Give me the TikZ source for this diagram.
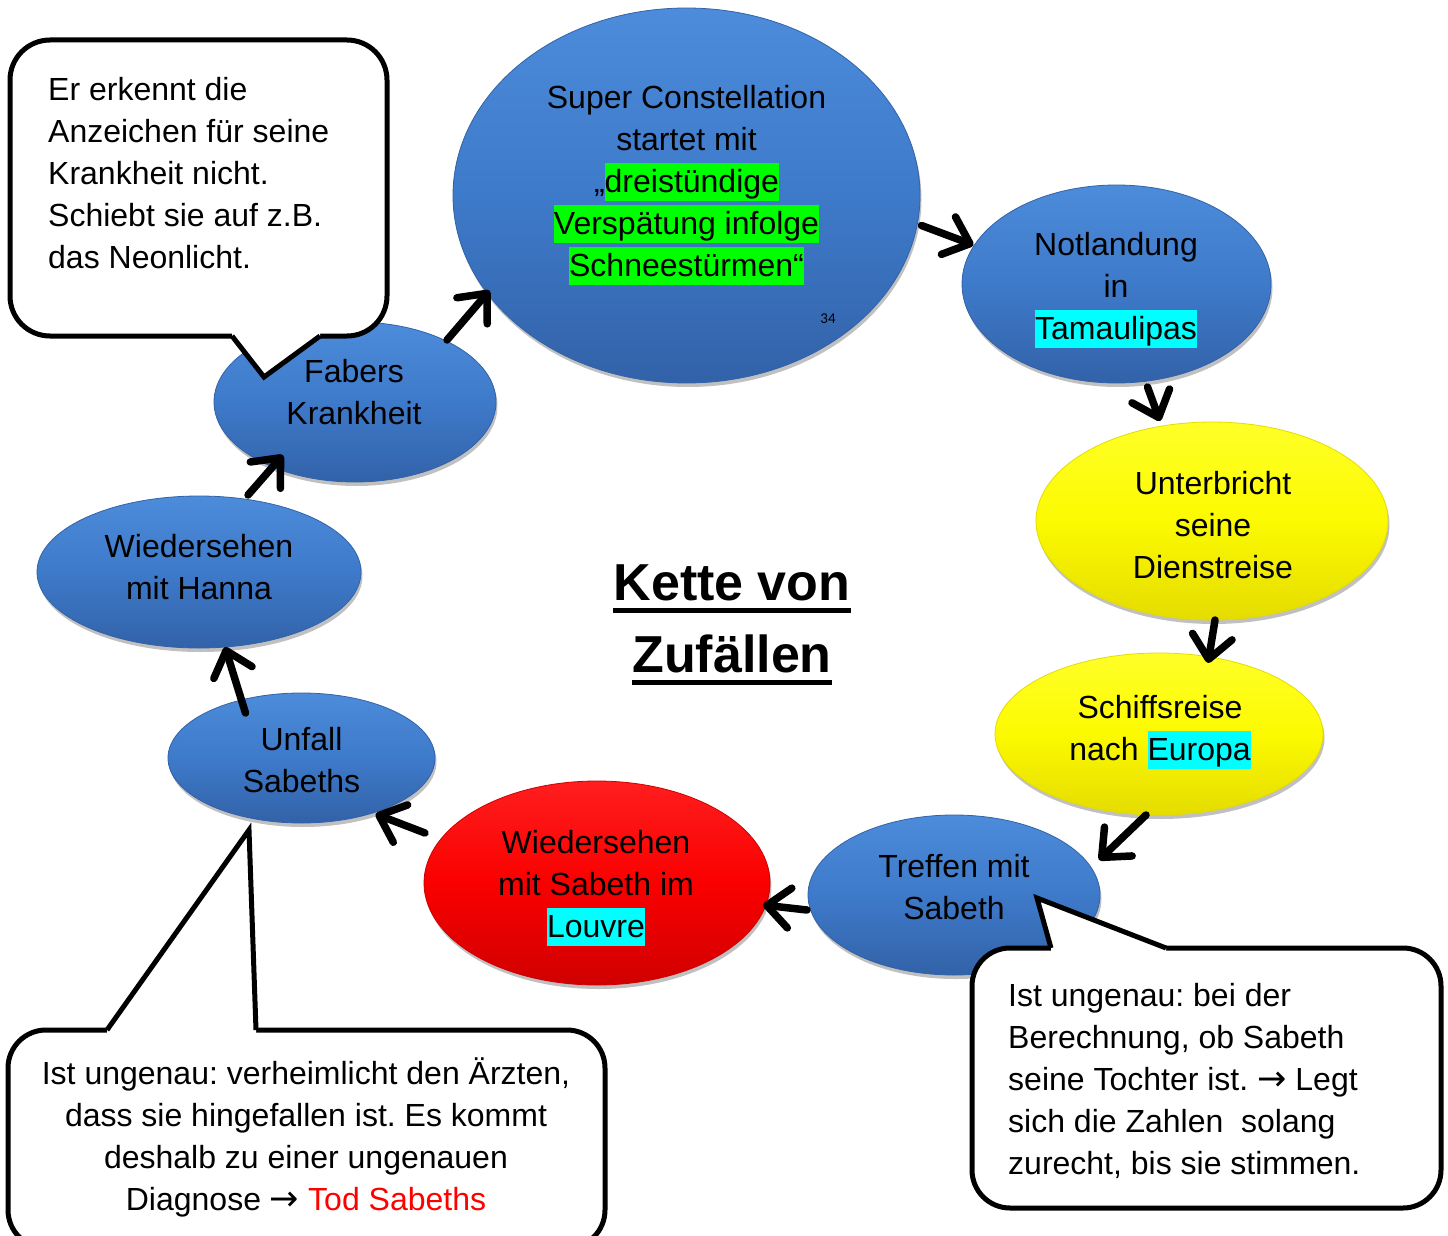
\documentclass[tikz,border=0pt]{standalone}
\usepackage{fontspec}
\setmainfont{Liberation Sans}
\newfontfamily\symf{DejaVu Sans}
\newfontfamily\smallf{Carlito}
\usetikzlibrary{shapes.geometric,arrows.meta,shadows}
\frenchspacing
\definecolor{bl1}{RGB}{76,140,218}
\definecolor{bl2}{RGB}{62,122,202}
\definecolor{bl3}{RGB}{50,98,168}
\definecolor{ye1}{RGB}{255,255,40}
\definecolor{ye2}{RGB}{252,250,0}
\definecolor{ye3}{RGB}{228,220,0}
\definecolor{re1}{RGB}{255,30,30}
\definecolor{re2}{RGB}{250,0,0}
\definecolor{re3}{RGB}{208,0,0}
\definecolor{hlgreen}{RGB}{0,255,0}
\definecolor{hlcyan}{RGB}{0,255,255}
\definecolor{txtred}{RGB}{255,0,0}
\newcommand\hlg[1]{{\setlength{\fboxsep}{0pt}\colorbox{hlgreen}{\rule[-9pt]{0pt}{38pt}#1}}}
\newcommand\hlc[1]{{\setlength{\fboxsep}{0pt}\colorbox{hlcyan}{\rule[-9pt]{0pt}{38pt}#1}}}
\newcommand\rarr{{\symf\fontsize{35}{42}\selectfont →}}
\tikzset{
 ell/.style={ellipse, inner sep=0pt, line width=0.8pt,
   drop shadow={shadow xshift=1.5pt, shadow yshift=-4pt, opacity=0.35, fill=black!70}},
 blueell/.style={ell, top color=bl1, bottom color=bl3, middle color=bl2, draw=bl3},
 yellowell/.style={ell, top color=ye1, bottom color=ye3, middle color=ye2, draw=ye3},
 redell/.style={ell, top color=re1, bottom color=re3, middle color=re2, draw=re3},
 lbl/.style={font=\fontsize{32}{42}\selectfont, align=center, inner sep=0pt},
 arr/.style={line width=7.5pt, line cap=round, -{Straight Barb[length=23pt,width=40pt,round]}},
 callbox/.style={draw=black, fill=white, line width=5pt, rounded corners=38pt},
 tailline/.style={draw=black, line width=5pt, line join=miter},
 ttl/.style={font=\fontsize{52}{60}\selectfont\bfseries, inner sep=0pt},
 uline/.style={line width=5pt},
}
\begin{document}
\begin{tikzpicture}[x=1pt,y=-1pt]
\useasboundingbox (0,0) rectangle (1448,1236);
\clip (0,0) rectangle (1448,1236);
\fill[white] (0,0) rectangle (1448,1236);

% ellipses
\node[blueell, minimum width=467pt, minimum height=375pt] (sup) at (686.5,195.5) {};
\node[blueell, minimum width=309pt, minimum height=198pt] (notl) at (1116.5,284) {};
\node[yellowell, minimum width=352pt, minimum height=198pt] (unt) at (1212,521) {};
\node[yellowell, minimum width=328pt, minimum height=162pt] (sch) at (1159,734) {};
\node[blueell, minimum width=292pt, minimum height=160pt] (tre) at (954,895) {};
\node[redell, minimum width=346pt, minimum height=204pt] (wss) at (597,883) {};
\node[blueell, minimum width=267pt, minimum height=130pt] (unf) at (301.5,758) {};
\node[blueell, minimum width=324pt, minimum height=152pt] (han) at (199,572) {};
\node[blueell, minimum width=282pt, minimum height=160pt] (fab) at (355,402) {};

% arrows
\draw[arr] ([shift={(92,-62)}]fab.center) -- ([shift={(-197,95)}]sup.center);
\draw[arr] ([shift={(235,30)}]sup.center) -- ([shift={(-143,-39)}]notl.center);
\draw[arr] ([shift={(31,103)}]notl.center) -- ([shift={(-52,-100)}]unt.center);
\draw[arr] ([shift={(3,99)}]unt.center) -- ([shift={(49,-71)}]sch.center);
\draw[arr] ([shift={(-13,81)}]sch.center) -- ([shift={(145,-35)}]tre.center);
\draw[arr] ([shift={(-147,15)}]tre.center) -- ([shift={(166,22)}]wss.center);
\draw[arr] ([shift={(-172,-50)}]wss.center) -- ([shift={(74,56)}]unf.center);
\draw[arr] ([shift={(-56,-45)}]unf.center) -- ([shift={(26,75)}]han.center);
\draw[arr] ([shift={(49,-77)}]han.center) -- ([shift={(-72,53)}]fab.center);

% callout A
\draw[callbox, rounded corners=40pt] (10,40) rectangle (387,336);
\fill[white] (232,330) -- (232,336) -- (264,377) -- (320,336) -- (320,330) -- cycle;
\draw[tailline] (232,336) -- (264,377) -- (320,336);
% callout B
\draw[callbox] (972,948) rectangle (1441,1208);
\fill[white] (1051,955) -- (1051,948) -- (1037,898) -- (1166,948) -- (1166,955) -- cycle;
\draw[tailline] (1051,948) -- (1037,898) -- (1166,948);
% callout C
\draw[callbox] (8,1030) rectangle (605,1248);
\fill[white] (107,1037) -- (107,1030) -- (249,830) -- (256,1030) -- (256,1037) -- cycle;
\draw[tailline] (107,1030) -- (249,830) -- (256,1030);

% texts
\node[lbl] (tsup) at (686.5,184) {\strut Super Constellation\\ startet mit\\ „\hlg{dreistündige}\\ \hlg{Verspätung infolge}\\ \hlg{Schneestürmen“}\strut};
\node[lbl] (tnot) at (1116,288.6) {\strut Notlandung\\ in\\ \hlc{Tamaulipas}\strut};
\node[lbl] (tunt) at (1213,528) {\strut Unterbricht\\ seine\\ Dienstreise\strut};
\node[lbl] (tsch) at (1160,731) {\strut Schiffsreise\\ nach \hlc{Europa}\strut};
\node[lbl] (ttre) at (954,890.5) {\strut Treffen mit\\ Sabeth\strut};
\node[lbl] (twss) at (596,887) {\strut Wiedersehen\\ mit Sabeth im\\ \hlc{Louvre}\strut};
\node[lbl] (tunf) at (301.5,763.5) {\strut Unfall\\ Sabeths\strut};
\node[lbl] (than) at (199,570) {\strut Wiedersehen\\ mit Hanna\strut};
\node[lbl] (tfab) at (354,395) {\strut Fabers\\ Krankheit\strut};
\node[font=\smallf\fontsize{15}{18}\selectfont, inner sep=0pt] (pg) at (828,319) {34};

\node[lbl, align=left, anchor=west] (ca) at (48,176) {\strut Er erkennt die\\ Anzeichen für seine\\ Krankheit nicht.\\ Schiebt sie auf z.B.\\ das Neonlicht.\strut};
\node[lbl, align=left, anchor=west] (cb) at (1008,1082) {\strut Ist ungenau: bei der\\ Berechnung, ob Sabeth\\ seine Tochter ist. \rarr{} Legt\\ sich die Zahlen\ \ solang\\ zurecht, bis sie stimmen.\strut};
\node[lbl] (cc) at (306,1139.5) {\strut Ist ungenau: verheimlicht den Ärzten,\\ dass sie hingefallen ist. Es kommt\\ deshalb zu einer ungenauen\\ Diagnose \rarr{} \textcolor{txtred}{Tod Sabeths}\strut};

% title
\node[ttl, anchor=base] (k1) at (732,600) {Kette von};
\node[ttl, anchor=base] (k2) at (732,672) {Zufällen};
\draw[uline] ([yshift=-10.5pt]k1.base west) -- ([yshift=-10.5pt]k1.base east);
\draw[uline] ([yshift=-10.5pt]k2.base west) -- ([yshift=-10.5pt]k2.base east);
\end{tikzpicture}
\end{document}
